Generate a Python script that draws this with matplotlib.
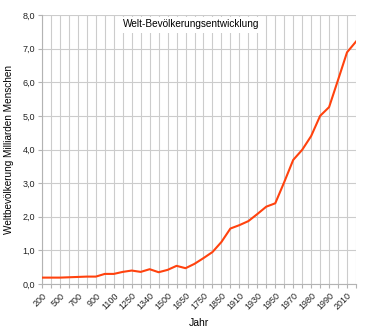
import matplotlib
matplotlib.use("Agg")
import matplotlib.pyplot as plt
from matplotlib.patches import Rectangle
import numpy as np

plt.rcParams['font.family'] = ['Liberation Sans', 'DejaVu Sans']

years = ["200", "400", "500", "600", "700", "800", "900", "1000", "1100", "1200",
         "1250", "1300", "1340", "1400", "1500", "1600", "1650", "1700", "1750", "1800",
         "1850", "1900", "1910", "1920", "1930", "1940", "1950", "1960", "1970", "1975",
         "1980", "1987", "1990", "2000", "2010", "2015"]
population = [0.19, 0.19, 0.19, 0.20, 0.21, 0.22, 0.22, 0.30, 0.30, 0.36,
              0.40, 0.36, 0.44, 0.35, 0.42, 0.54, 0.47, 0.60, 0.77, 0.95,
              1.25, 1.65, 1.75, 1.87, 2.08, 2.30, 2.40, 3.03, 3.69, 3.99,
              4.40, 5.00, 5.26, 6.07, 6.89, 7.21]
yticks = [0, 1, 2, 3, 4, 5, 6, 7, 8]

fig = plt.figure(figsize=(3.65, 3.27), dpi=100)
ax = fig.add_axes([42/365, 1 - 284/327, (356-42)/365, (284-15)/327])

x = np.arange(len(years))
ax.plot(x, population, color='#ff420e', lw=1.5, zorder=3)

ax.set_xlim(0, len(years) - 1)
ax.set_ylim(0, 8)
ax.set_xticks(x)
ax.set_xticklabels([y if i % 2 == 0 else "" for i, y in enumerate(years)],
                   rotation=45, ha='right', rotation_mode='anchor', fontsize=6.5,
                   color='#222222')
ax.set_yticks(yticks)
ax.set_yticklabels([f"{v:.1f}".replace('.', ',') for v in yticks], fontsize=6.5,
                   color='#222222')

ax.grid(True, color='#cccccc', lw=0.8, zorder=0)
for s in ax.spines.values():
    s.set_visible(False)
ax.spines['left'].set_visible(True)
ax.spines['bottom'].set_visible(True)
ax.spines['left'].set_color('#b3b3b3')
ax.spines['bottom'].set_color('#b3b3b3')
ax.tick_params(axis='both', length=3, color='#b3b3b3', pad=2)

ax.set_xlabel("Jahr", fontsize=7.5, labelpad=5)
ax.set_ylabel("Weltbevölkerung Milliarden Menschen", fontsize=7.2, labelpad=6)

# white panel behind the title, below the top grid line
ax.add_patch(Rectangle((0.248, 0.933), 0.446, 0.060, transform=ax.transAxes,
                       facecolor='white', edgecolor='none', zorder=4))
ax.text(0.475, 0.965, "Welt-Bevölkerungsentwicklung", transform=ax.transAxes,
        ha='center', va='center', fontsize=7.2, zorder=5)

fig.savefig("out.png", dpi=100)
